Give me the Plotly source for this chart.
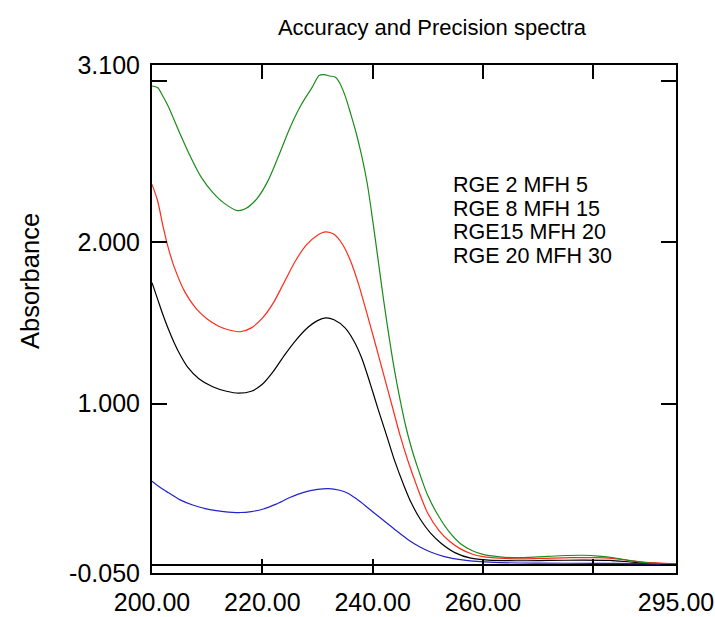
import plotly.graph_objects as go

# ---- data ----
wl_green = [200, 201, 202, 203, 205, 207, 209, 211, 213, 215.5, 217, 219, 221, 223, 225, 227, 229, 230.3, 231.2, 232.2, 233.2, 234, 235, 236, 237, 238, 239, 240, 241, 242, 243, 244, 245, 246, 247, 248, 250, 252, 254, 256, 258, 260, 263, 266, 270, 274, 278, 281, 284, 287, 290, 295]
abs_green = [2.97, 2.96, 2.905, 2.84, 2.68, 2.53, 2.40, 2.31, 2.245, 2.197, 2.21, 2.27, 2.38, 2.54, 2.71, 2.85, 2.96, 3.035, 3.04, 3.032, 3.025, 2.99, 2.91, 2.80, 2.68, 2.54, 2.37, 2.14, 1.89, 1.64, 1.41, 1.20, 1.02, 0.86, 0.73, 0.62, 0.43, 0.30, 0.20, 0.13, 0.09, 0.065, 0.05, 0.045, 0.05, 0.057, 0.06, 0.055, 0.043, 0.025, 0.012, 0.007]

wl_red = [200, 201, 202, 203, 204, 206, 208, 210, 212, 214, 216, 218, 220, 222, 224, 226, 228, 230, 231.5, 233, 234.5, 236, 237.5, 239, 240.5, 242, 243.5, 245, 246.5, 248, 250, 252, 254, 256, 258, 260, 263, 266, 270, 276, 281, 285, 289, 295]
abs_red = [2.36, 2.26, 2.10, 1.96, 1.85, 1.69, 1.59, 1.525, 1.482, 1.457, 1.446, 1.47, 1.53, 1.625, 1.755, 1.885, 1.985, 2.045, 2.065, 2.05, 1.99, 1.885, 1.735, 1.555, 1.37, 1.18, 0.99, 0.80, 0.635, 0.49, 0.32, 0.215, 0.145, 0.098, 0.068, 0.052, 0.042, 0.038, 0.04, 0.045, 0.045, 0.035, 0.017, 0.007]

wl_black = [200, 201, 202, 203, 204, 205, 206.5, 208.5, 211, 213.5, 215.7, 218, 220, 222, 224, 226, 228, 230, 231.5, 233, 235, 236.5, 238, 239.6, 241, 242.7, 244, 245.7, 247, 248.7, 250.5, 252.4, 255, 257.8, 261, 266, 272, 278, 283, 288, 295]
abs_black = [1.75, 1.65, 1.55, 1.46, 1.38, 1.31, 1.225, 1.155, 1.105, 1.077, 1.065, 1.077, 1.12, 1.20, 1.30, 1.39, 1.465, 1.515, 1.532, 1.52, 1.47, 1.395, 1.285, 1.12, 0.965, 0.785, 0.645, 0.49, 0.385, 0.28, 0.197, 0.135, 0.075, 0.042, 0.03, 0.026, 0.028, 0.03, 0.028, 0.015, 0.007]

wl_blue = [200, 201.5, 203, 205, 207.5, 210.5, 213, 216, 218, 220.2, 222.5, 225, 227.5, 230, 232, 234, 235.5, 237, 238.5, 240, 242, 244, 246.5, 248.5, 250.5, 253, 256.6, 262, 270, 280, 288, 295]
abs_blue = [0.519, 0.48, 0.447, 0.405, 0.37, 0.343, 0.331, 0.325, 0.331, 0.347, 0.377, 0.418, 0.45, 0.468, 0.473, 0.463, 0.445, 0.412, 0.372, 0.33, 0.275, 0.22, 0.155, 0.113, 0.08, 0.052, 0.03, 0.016, 0.011, 0.01, 0.008, 0.005]

series_names = ["RGE 2 MFH 5", "RGE 8 MFH 15", "RGE15 MFH 20", "RGE 20 MFH 30"]

x_tickvals = [200, 220, 240, 260, 280, 295]
x_ticktext = ["200.00", "220.00", "240.00", "260.00", "", "295.00"]
y_tickvals = [-0.05, 0, 1, 2, 3, 3.1]
y_ticktext = ["-0.050", "", "1.000", "2.000", "", "3.100"]

FONT = "Liberation Sans, Arial, sans-serif"

fig = go.Figure()
traces = [
    (wl_blue, abs_blue, series_names[0], "#2323cc"),
    (wl_black, abs_black, series_names[1], "#000000"),
    (wl_red, abs_red, series_names[2], "#ff2a1a"),
    (wl_green, abs_green, series_names[3], "#1a8c1a"),
]
for xs, ys, name, col in traces:
    fig.add_trace(go.Scatter(x=xs, y=ys, name=name, mode="lines",
                             line=dict(color=col, width=1.2, shape="spline", smoothing=0.8),
                             showlegend=False))

# legend text (plain text, no symbols)
legend_y = [185, 209, 232, 256]
for name, ypx in zip(series_names, legend_y):
    fig.add_annotation(text=name, xref="paper", yref="paper",
                       x=(451 - 152) / 524, y=(573 - ypx) / 508,
                       xanchor="left", yanchor="middle", showarrow=False,
                       font=dict(family=FONT, size=21.5, color="black"))

fig.add_annotation(text="Absorbance", xref="paper", yref="paper",
                   x=(30 - 152) / 524, y=(573 - 281) / 508, textangle=-90,
                   xanchor="center", yanchor="middle", showarrow=False,
                   font=dict(family=FONT, size=25.5, color="black"))

fig.update_layout(
    width=715, height=617,
    margin=dict(l=152, r=39, t=65, b=44),
    paper_bgcolor="white", plot_bgcolor="white",
    title=dict(text="Accuracy and Precision spectra", x=432 / 715, xanchor="center",
               xref="container", yref="container", y=1 - 27 / 617, yanchor="middle",
               font=dict(family=FONT, size=22, color="black")),
    font=dict(family=FONT, color="black"),
)
fig.update_xaxes(range=[200, 295], tickmode="array", tickvals=x_tickvals, ticktext=x_ticktext,
                 ticks="inside", ticklen=14, tickwidth=2, tickcolor="black",
                 showline=True, linewidth=2, linecolor="black", mirror="ticks",
                 showgrid=False, zeroline=False, automargin=False,
                 tickfont=dict(family=FONT, size=25, color="black"), ticklabelstandoff=6)
fig.update_yaxes(range=[-0.05, 3.1], tickmode="array", tickvals=y_tickvals, ticktext=y_ticktext,
                 ticks="inside", ticklen=15, tickwidth=2, tickcolor="black",
                 showline=True, linewidth=2, linecolor="black", mirror="ticks",
                 showgrid=False, zeroline=True, zerolinecolor="black", zerolinewidth=2,
                 automargin=False,
                 tickfont=dict(family=FONT, size=25, color="black"), ticklabelstandoff=5)

fig.write_html("out.html")
